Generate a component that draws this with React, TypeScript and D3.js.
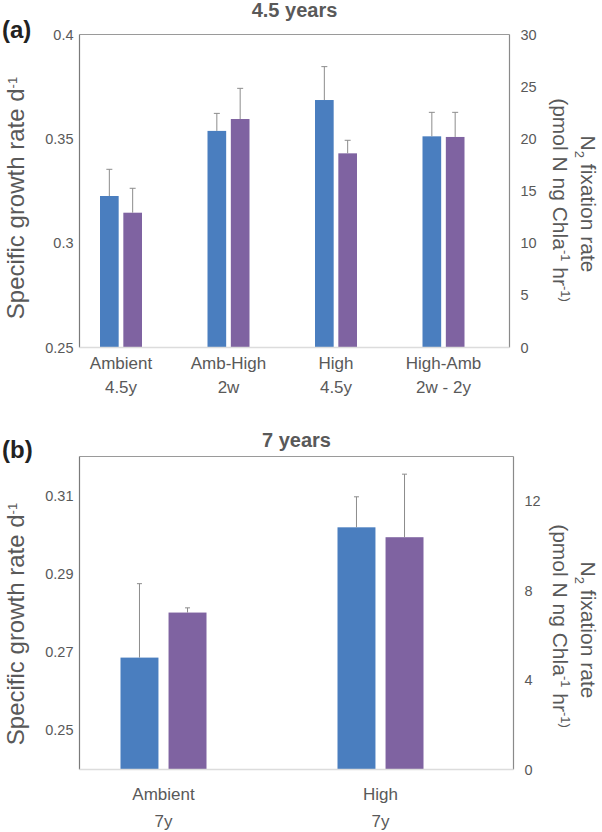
import React from "react";
import * as d3 from "d3";

// ---------- data ----------
const catsA = ["Ambient", "Amb-High", "High", "High-Amb"];
const subsA = ["4.5y", "2w", "4.5y", "2w - 2y"];
const growthA = [0.3226, 0.3538, 0.3686, 0.3512];
const growthErrA = [0.0128, 0.0084, 0.016, 0.0115];
const n2A = [12.92, 21.9, 18.61, 20.18];
const n2ErrA = [2.34, 2.94, 1.25, 2.36];
const leftTicksA = [0.25, 0.3, 0.35, 0.4];
const rightTicksA = [0, 5, 10, 15, 20, 25, 30];

const catsB = ["Ambient", "High"];
const subsB = ["7y", "7y"];
const growthB = [0.2686, 0.3019];
const growthErrB = [0.0189, 0.0078];
const n2B = [7.02, 10.39];
const n2ErrB = [0.21, 2.82];
const leftTicksB = [0.25, 0.27, 0.29, 0.31];
const rightTicksB = [0, 4, 8, 12];

const series = ["growth", "n2"];

// ---------- styles ----------
const FONT = "'Helvetica Neue', Arial, 'Liberation Sans', sans-serif";
const BLUE = "#4a7ebf";
const PURPLE = "#7f63a1";
const TEXT = "#595959";
const ERR = "#8c8c8c";

type PanelProps = {
  cats: string[];
  subs: string[];
  growth: number[];
  growthErr: number[];
  n2: number[];
  n2Err: number[];
  leftDomain: [number, number];
  rightDomain: [number, number];
  leftTicks: number[];
  rightTicks: number[];
  box: { x0: number; x1: number; y0: number; y1: number };
  bandShift: number;
  halfGroup: number;
  innerPad: number;
  title: string;
  tag: string;
  titleY: number;
  tagY: number;
  labelY1: number;
  labelY2: number;
  titleCenterY: number;
  capW: number;
};

function Panel(p: PanelProps) {
  const { box } = p;
  const x = d3
    .scaleBand<string>()
    .domain(p.cats)
    .range([box.x0 - p.bandShift, box.x1 - p.bandShift])
    .padding(0);
  const xs = d3
    .scaleBand<string>()
    .domain(series)
    .range([-p.halfGroup, p.halfGroup])
    .paddingInner(p.innerPad);
  const yL = d3.scaleLinear().domain(p.leftDomain).range([box.y1, box.y0]);
  const yR = d3.scaleLinear().domain(p.rightDomain).range([box.y1, box.y0]);
  const fmtL = (v: number) => d3.format("")(+v.toFixed(3));

  return (
    <g>
      {/* tag and title */}
      <text x={2} y={p.tagY} fontSize={24} fontWeight="bold" fill="#222" fontFamily={FONT}>
        {p.tag}
      </text>
      <text
        x={(box.x0 + box.x1) / 2}
        y={p.titleY}
        fontSize={20}
        fontWeight="bold"
        fill={TEXT}
        textAnchor="middle"
        fontFamily={FONT}
      >
        {p.title}
      </text>

      {/* box */}
      <line x1={box.x0} x2={box.x1} y1={box.y0} y2={box.y0} stroke="#9a9a9a" strokeWidth={1.2} />
      <line x1={box.x1} x2={box.x1} y1={box.y0} y2={box.y1} stroke="#8a8a8a" strokeWidth={1.2} />

      {/* bars */}
      {p.cats.map((c, i) => {
        const cx = (x(c) as number) + x.bandwidth() / 2;
        const bx = cx + (xs("growth") as number);
        const px = cx + (xs("n2") as number);
        const bw = xs.bandwidth();
        const gTop = yL(p.growth[i]);
        const gErr = yL(p.growth[i] + p.growthErr[i]);
        const nTop = yR(p.n2[i]);
        const nErr = yR(p.n2[i] + p.n2Err[i]);
        return (
          <g key={c}>
            <rect x={bx} y={gTop} width={bw} height={box.y1 - gTop} fill={BLUE} />
            <rect x={px} y={nTop} width={bw} height={box.y1 - nTop} fill={PURPLE} />
            <line x1={bx + bw / 2} x2={bx + bw / 2} y1={gTop} y2={gErr} stroke={ERR} strokeWidth={1} />
            <line x1={bx + bw / 2 - p.capW / 2} x2={bx + bw / 2 + p.capW / 2} y1={gErr} y2={gErr} stroke={ERR} strokeWidth={1} />
            <line x1={px + bw / 2} x2={px + bw / 2} y1={nTop} y2={nErr} stroke={ERR} strokeWidth={1} />
            <line x1={px + bw / 2 - p.capW / 2} x2={px + bw / 2 + p.capW / 2} y1={nErr} y2={nErr} stroke={ERR} strokeWidth={1} />
            <text x={cx} y={p.labelY1} textAnchor="middle" fontSize={17} fill={TEXT} fontFamily={FONT}>
              {c}
            </text>
            <text x={cx} y={p.labelY2} textAnchor="middle" fontSize={17} fill={TEXT} fontFamily={FONT}>
              {p.subs[i]}
            </text>
          </g>
        );
      })}

      {/* axes lines */}
      <line x1={box.x0} x2={box.x0} y1={box.y0} y2={box.y1} stroke="#7a7a7a" strokeWidth={1.2} />
      <line x1={box.x0} x2={box.x1} y1={box.y1} y2={box.y1} stroke="#dcdcdc" strokeWidth={1.5} />

      {/* left ticks */}
      {p.leftTicks.map((t) => (
        <text
          key={"l" + t}
          x={box.x0 - 6}
          y={yL(t)}
          dy="0.35em"
          textAnchor="end"
          fontSize={14.5}
          fill={TEXT}
          fontFamily={FONT}
        >
          {fmtL(t)}
        </text>
      ))}
      {/* right ticks */}
      {p.rightTicks.map((t) => (
        <text
          key={"r" + t}
          x={box.x1 + 11}
          y={yR(t)}
          dy="0.35em"
          textAnchor="start"
          fontSize={14.5}
          fill={TEXT}
          fontFamily={FONT}
        >
          {t}
        </text>
      ))}

      {/* left axis title */}
      <text
        transform={`translate(16, ${p.titleCenterY}) rotate(-90)`}
        textAnchor="middle"
        dy="0.35em"
        fontSize={24}
        fill={TEXT}
        fontFamily={FONT}
      >
        Specific growth rate d
        <tspan fontSize={13} dy="-0.6em">-1</tspan>
      </text>

      {/* right axis title */}
      <text
        transform={`translate(588, ${p.titleCenterY + 6}) rotate(90)`}
        textAnchor="middle"
        dy="0.35em"
        fontSize={21}
        fill={TEXT}
        fontFamily={FONT}
      >
        N
        <tspan fontSize={13} dy="0.4em">2</tspan>
        <tspan dy="-0.25em"> fixation rate</tspan>
      </text>
      <text
        transform={`translate(560, ${p.titleCenterY + 2}) rotate(90)`}
        textAnchor="middle"
        dy="0.35em"
        fontSize={21}
        fill={TEXT}
        fontFamily={FONT}
      >
        (pmol N ng Chla
        <tspan fontSize={13} dy="-0.65em">-1</tspan>
        <tspan dy="0.4em"> hr</tspan>
        <tspan fontSize={13} dy="-0.65em">-1)</tspan>
      </text>
    </g>
  );
}

export default function App() {
  return (
    <svg
      width={602}
      height={832}
      viewBox="0 0 602 832"
      style={{ position: "absolute", left: 0, top: 0, background: "#fff" }}
    >
      <rect width={602} height={832} fill="#fff" />
      <Panel
        cats={catsA}
        subs={subsA}
        growth={growthA}
        growthErr={growthErrA}
        n2={n2A}
        n2Err={n2ErrA}
        leftDomain={[0.25, 0.4]}
        rightDomain={[0, 30]}
        leftTicks={leftTicksA}
        rightTicks={rightTicksA}
        box={{ x0: 79.5, x1: 509.5, y0: 34.5, y1: 347.5 }}
        bandShift={12.25}
        halfGroup={21}
        innerPad={0.2}
        title="4.5 years"
        tag="(a)"
        titleY={17}
        tagY={38}
        labelY1={369}
        labelY2={393}
        titleCenterY={198}
        capW={6}
      />
      <Panel
        cats={catsB}
        subs={subsB}
        growth={growthB}
        growthErr={growthErrB}
        n2={n2B}
        n2Err={n2ErrB}
        leftDomain={[0.24, 0.32]}
        rightDomain={[0, 14]}
        leftTicks={leftTicksB}
        rightTicks={rightTicksB}
        box={{ x0: 79.5, x1: 513.5, y0: 456.5, y1: 769.5 }}
        bandShift={24.5}
        halfGroup={43}
        innerPad={0.21}
        title="7 years"
        tag="(b)"
        titleY={447}
        tagY={458}
        labelY1={800}
        labelY2={827}
        titleCenterY={624}
        capW={5}
      />
    </svg>
  );
}
